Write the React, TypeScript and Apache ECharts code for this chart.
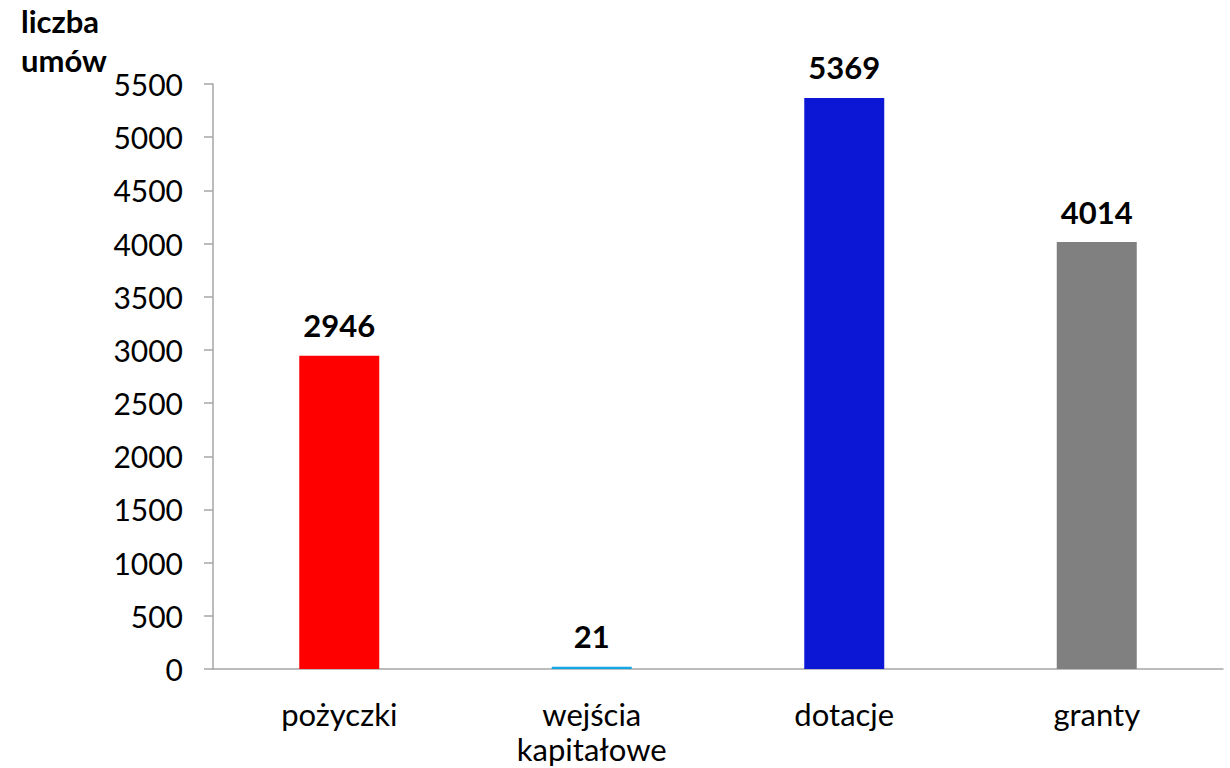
import React, { useEffect, useRef } from "react";
import * as echarts from "echarts";

const categories = ["pożyczki", "wejścia\nkapitałowe", "dotacje", "granty"];
const values = [2946, 21, 5369, 4014];
const barColors = ["#ff0000", "#12a8e8", "#0c17d6", "#808080"];
const yTitle = "liczba\numów";

export default function App() {
  const ref = useRef<HTMLDivElement>(null);
  useEffect(() => {
    if (!ref.current) return;
    const chart = echarts.init(ref.current, null, { renderer: "svg" });
    chart.setOption({
      animation: false,
      textStyle: { fontFamily: "Lato" },
      grid: { left: 213, right: 7, top: 84, bottom: 99, containLabel: false },
      graphic: [
        {
          type: "text",
          left: 21,
          top: 1,
          style: {
            text: yTitle,
            font: "bold 31px Lato",
            fill: "#000",
            lineHeight: 39,
          },
        },
      ],
      xAxis: {
        type: "category",
        data: categories,
        axisLine: { lineStyle: { color: "#a6a6a6", width: 1.5 } },
        axisTick: { show: false },
        axisLabel: {
          color: "#000",
          fontSize: 31,
          fontFamily: "Lato",
          margin: 27,
          lineHeight: 35,
          interval: 0,
        },
      },
      yAxis: {
        type: "value",
        min: 0,
        max: 5500,
        interval: 500,
        axisLine: { show: true, lineStyle: { color: "#a6a6a6", width: 1.5 } },
        axisTick: { show: true, length: 9, lineStyle: { color: "#a6a6a6", width: 1.5 } },
        splitLine: { show: false },
        axisLabel: {
          color: "#000",
          fontSize: 30,
          fontFamily: "Lato",
          margin: 30,
          formatter: (v: number) => String(v),
        },
      },
      series: [
        {
          type: "bar",
          barWidth: 80,
          data: values.map((v, i) => ({ value: v, itemStyle: { color: barColors[i] } })),
          label: {
            show: true,
            position: "top",
            distance: 15,
            color: "#000",
            fontSize: 31,
            fontWeight: "bold",
            fontFamily: "Lato",
          },
        },
      ],
    });
    return () => chart.dispose();
  }, []);
  return <div ref={ref} style={{ width: 1230, height: 768, position: "absolute", left: 0, top: 0 }} />;
}
